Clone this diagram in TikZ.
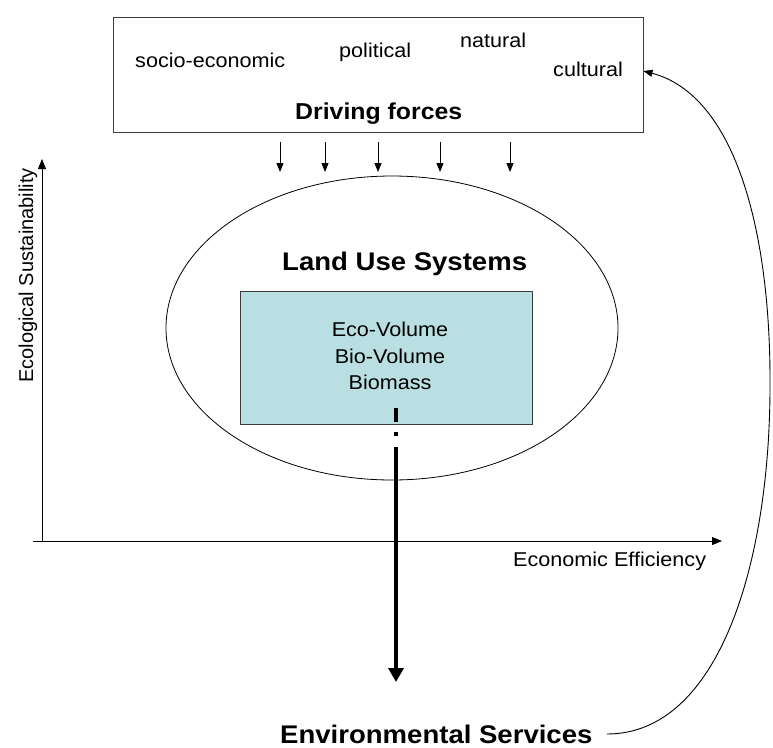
\documentclass[tikz,border=0pt]{standalone}
\usepackage{fontspec}
\setmainfont{Liberation Sans}
\usepackage{graphicx}
\usetikzlibrary{arrows.meta,shapes.geometric}
\definecolor{lucyan}{RGB}{185,223,226}
\definecolor{edgegray}{RGB}{60,60,60}
\newcommand\hstretch[1]{\scalebox{1.08}[1]{#1}}
\begin{document}
\begin{tikzpicture}[x=1pt,y=-1pt,
  lbl/.style={inner sep=0pt, anchor=base west, font=\fontsize{20}{24}\selectfont},
  clbl/.style={inner sep=0pt, anchor=base, font=\fontsize{20}{24}\selectfont},
  boldlbl/.style={inner sep=0pt, anchor=base west, font=\fontsize{25.5}{30}\selectfont\bfseries},
  thinarrow/.style={line width=0.9pt, -{Triangle[length=9pt,width=7pt]}},
  axisline/.style={line width=0.9pt, -{Triangle[length=10pt,width=8pt]}},
]
\useasboundingbox (0,0) rectangle (773,747);

% driving forces box
\node[draw=edgegray, line width=0.9pt, rectangle, minimum width=530pt, minimum height=115pt, inner sep=0pt] (box) at (378,74.5) {};
\node[lbl] (socio) at (135,67) {\hstretch{socio-economic}};
\node[lbl] (poli) at (339,57) {\hstretch{political}};
\node[lbl] (natu) at (460,47) {\hstretch{natural}};
\node[lbl] (cult) at (553,76) {\hstretch{cultural}};
\node[inner sep=0pt, anchor=base west, font=\fontsize{23}{28}\selectfont\bfseries] (drv) at (295,119) {\hstretch{Driving forces}};

% axes
\coordinate (origin) at (42,541);
\coordinate (ytip) at (42,159);
\coordinate (xleft) at (33,541);
\coordinate (xtip) at (722,541);
\draw[axisline] (xleft) -- (xtip);
\draw[axisline] (origin) -- (ytip);
\node[lbl, rotate=90] (ecolab) at (33,383) {Ecological Sustainability};
\node[lbl] (econlab) at (513,566) {\hstretch{Economic Efficiency}};

% land use ellipse
\node[draw, ellipse, line width=0.8pt, minimum width=452pt, minimum height=304pt, inner sep=0pt] (lus) at (392,328) {};
\node[boldlbl] (lustitle) at (282,270) {\hstretch{Land Use Systems}};

% cyan box
\node[draw=edgegray, fill=lucyan, line width=0.8pt, rectangle, minimum width=292pt, minimum height=133pt, inner sep=0pt] (bio) at (386,357.5) {};
\node[clbl] (eco) at (390,336) {\hstretch{Eco-Volume}};
\node[clbl] (biov) at (390,363) {\hstretch{Bio-Volume}};
\node[clbl] (biom) at (390,389) {\hstretch{Biomass}};

% arrows from driving forces
\foreach \xx/\nm in {280/a,325/b,378/c,440/d,510/e}{
  \coordinate (s\nm) at (\xx,142);
  \coordinate (t\nm) at (\xx,172);
  \draw[thinarrow] (s\nm) -- (t\nm);
}

% environmental services
\node[boldlbl] (env) at (280,743) {\hstretch{Environmental Services}};
\coordinate (flowtop) at (396,408);
\coordinate (flowend) at (396,682);
\draw[line width=4pt, dash pattern=on 14pt off 10pt on 4pt off 11pt on 400pt,
      -{Triangle[length=14pt,width=15pt]}] (flowtop) -- (flowend);

% feedback curve
\coordinate (cs) at (607,734);
\coordinate (cm) at (770,380);
\coordinate (ce) at ([yshift=3.5pt]box.east);
\draw[line width=0.9pt, -{Triangle[length=9pt,width=7pt]}]
  (cs) .. controls (720,734) and (771,560) .. (cm)
       .. controls (770,230) and (735,95) .. (ce);
\end{tikzpicture}
\end{document}
